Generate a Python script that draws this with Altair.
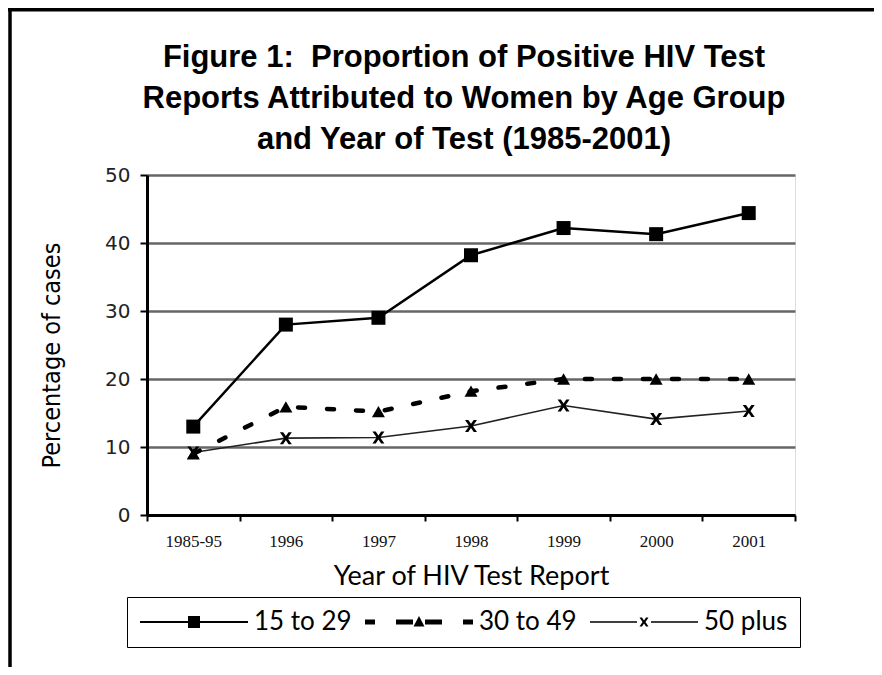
import altair as alt
import pandas as pd

# ---- data ----
years = ["1985-95", "1996", "1997", "1998", "1999", "2000", "2001"]
age_15_29 = [13.0, 28.0, 29.0, 38.2, 42.2, 41.3, 44.4]
age_30_49 = [9.0, 15.9, 15.2, 18.2, 20.0, 20.0, 20.0]
age_50_plus = [9.2, 11.3, 11.4, 13.1, 16.1, 14.1, 15.3]
series_names = ["15 to 29", "30 to 49", "50 plus"]
y_ticks = [0, 10, 20, 30, 40, 50]
title_lines = [
    "Figure 1:\u00a0\u00a0Proportion of Positive HIV Test\u00a0\u00a0\u00a0\u00a0\u00a0",
    "Reports Attributed to Women by Age Group",
    "and Year of Test (1985-2001)",
]

rows = []
for name, vals in zip(series_names, [age_15_29, age_30_49, age_50_plus]):
    for yr, v in zip(years, vals):
        rows.append({"year": yr, "value": v, "series": name})
df = pd.DataFrame(rows)

# marker / legend symbol shapes
x_marker = "M-1,-1H-0.45L0,-0.35L0.45,-1H1L0.3,0L1,1H0.45L0,0.35L-0.45,1H-1L-0.3,0Z"
legend_paths = [
    "M-5.4,-0.1H5.4V0.1H-5.4Z M-0.6,-0.6H0.6V0.6H-0.6Z",
    "M-5.4,-0.25H-4.4V0.25H-5.4Z M-2.3,-0.25H-0.6V0.25H-2.3Z "
    "M0.6,-0.25H2.3V0.25H0.6Z M4.4,-0.25H5.4V0.25H4.4Z M0,-0.6L0.55,0.45H-0.55Z",
    "M-5.4,-0.07H-0.7V0.07H-5.4Z M0.7,-0.07H5.4V0.07H0.7Z "
    "M-0.45,-0.45H-0.2L0,-0.15L0.2,-0.45H0.45L0.15,0L0.45,0.45H0.2L0,0.15L-0.2,0.45H-0.45L-0.15,0Z",
]

narrow = "'Liberation Sans Narrow', 'DejaVu Sans Condensed', 'Liberation Sans', sans-serif"

x_axis = alt.Axis(
    labelAngle=0, tickBand="extent", grid=False,
    domainColor="black", domainWidth=3, tickColor="black", tickWidth=2, tickSize=6,
    labelFont="Liberation Serif", labelFontSize=17, labelColor="#111", labelPadding=12,
    title="Year of HIV Test Report", titleFont="Lato", titleFontSize=27,
    titleFontWeight="normal", titleColor="black", titlePadding=14,
)
y_axis = alt.Axis(
    values=y_ticks, grid=True, gridColor="#666666", gridWidth=2.5,
    domainColor="black", domainWidth=3, tickColor="black", tickWidth=2, tickSize=7,
    labelFont="DejaVu Sans", labelFontSize=20, labelColor="#222", labelPadding=10,
    title="Percentage of cases", titleFont=narrow, titleFontSize=25,
    titleFontWeight="normal", titleColor="black", titlePadding=40, titleY=180,
)

base = alt.Chart(df).encode(
    x=alt.X("year:N", sort=years, bandPosition=0.5,
            scale=alt.Scale(type="band", domain=years, paddingInner=0, paddingOuter=0),
            axis=x_axis),
    y=alt.Y("value:Q", scale=alt.Scale(domain=[0, 50], nice=False), axis=y_axis),
)

def sel(name):
    return base.transform_filter(alt.datum.series == name)

line1 = sel("15 to 29").mark_line(color="black", strokeWidth=2.5)
line2 = sel("30 to 49").mark_line(color="black", strokeWidth=4.5, strokeDash=[7, 22], strokeCap="round")
line3 = sel("50 plus").mark_line(color="#222", strokeWidth=1.6)
pts1 = sel("15 to 29").mark_point(shape="square", filled=True, size=196, color="black", opacity=1)
pts2 = sel("30 to 49").mark_point(shape="triangle-up", filled=True, size=169, color="black", opacity=1)
pts3 = sel("50 plus").mark_point(shape=x_marker, filled=True, size=144, color="black", opacity=1)

legend_layer = base.mark_point(filled=True, color="black", opacity=0).encode(
    shape=alt.Shape(
        "series:N",
        scale=alt.Scale(domain=series_names, range=legend_paths),
        legend=alt.Legend(
            title=None, orient="none", legendX=-20, legendY=422, direction="horizontal",
            symbolSize=400, symbolStrokeWidth=0, symbolFillColor="black", symbolOpacity=1,
            symbolOffset=42, labelOffset=47, labelFont="Lato", labelFontSize=26,
            labelColor="black", columnPadding=12, padding=12,
            strokeColor="black", cornerRadius=0, fillColor="white",
        ),
    )
)

one = pd.DataFrame({"k": [0]})
frame_top = alt.Chart(one).mark_rule(color="black", strokeWidth=4).encode(
    x=alt.value(-139), x2=alt.value(727), y=alt.value(-165.5))
frame_left = alt.Chart(one).mark_rule(color="black", strokeWidth=3.5).encode(
    x=alt.value(-137), y=alt.value(-167), y2=alt.value(492))

chart = alt.layer(
    line3, line2, line1, pts3, pts2, pts1, legend_layer, frame_top, frame_left
).properties(
    width=648, height=340,
    autosize=alt.AutoSizeParams(type="none"),
    padding={"left": 139, "top": 167, "right": 79, "bottom": 152},
    title=alt.Title(
        title_lines, font="Liberation Sans", fontSize=31, fontWeight="bold",
        lineHeight=41, anchor="middle", color="black", offset=-150, dx=-7,
    ),
).configure_view(stroke=None).configure_legend(strokeWidth=2.5).configure(background="white")

chart.save("out.html", embed_options={"renderer": "svg", "actions": False})
